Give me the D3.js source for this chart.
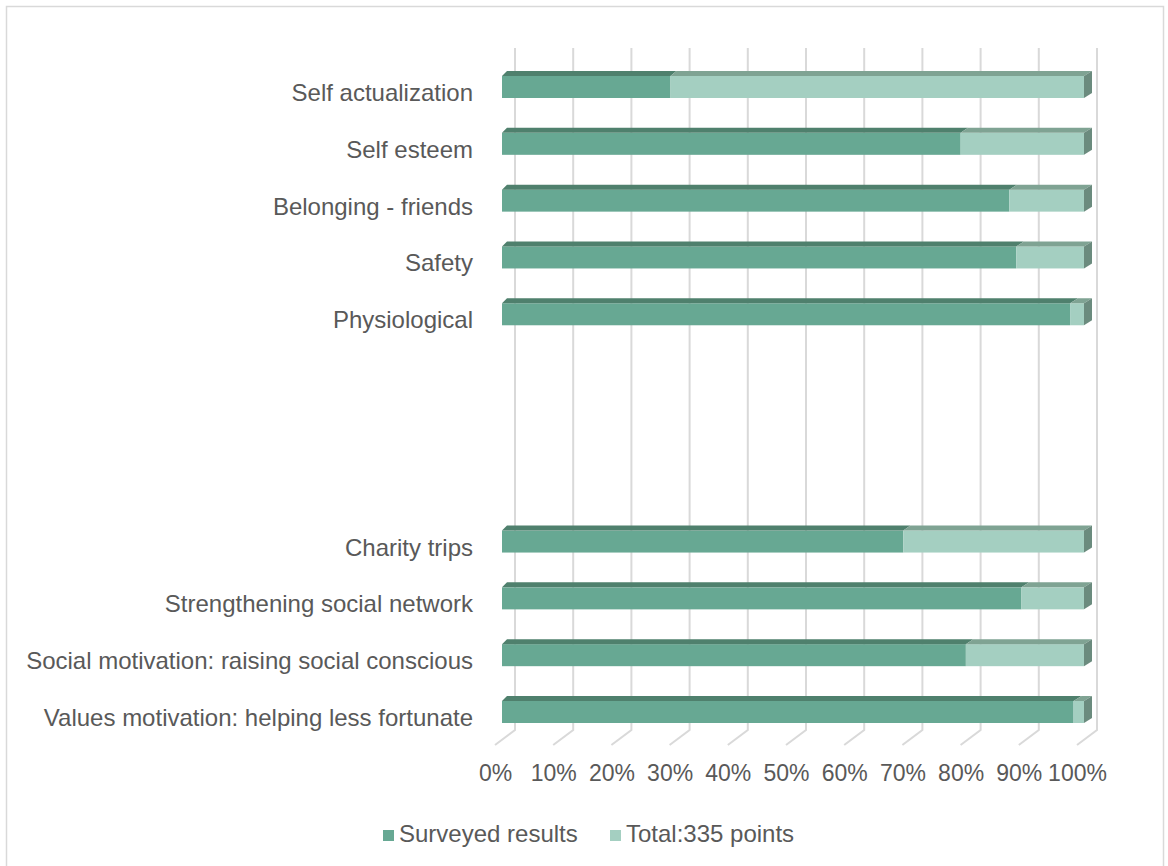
<!DOCTYPE html>
<html>
<head>
<meta charset="utf-8">
<script src="https://cdn.jsdelivr.net/npm/d3@7"></script>
<style>
  html, body { margin: 0; padding: 0; background: #ffffff; }
  svg { display: block; }
  text { font-family: "Liberation Sans", Arial, sans-serif; fill: #595959; }
</style>
</head>
<body>
<svg id="chart" width="1168" height="866"></svg>
<script>
// Categories top to bottom; empty names are spacer rows between the two groups
const categories = [
  "Self actualization",
  "Self esteem",
  "Belonging - friends",
  "Safety",
  "Physiological",
  "", "", "",
  "Charity trips",
  "Strengthening social network",
  "Social motivation: raising social conscious",
  "Values motivation: helping less fortunate"
];
// Points per category (each row totals 335)
const surveyed  = [97, 264, 292, 296, 327, null, null, null, 231, 299, 267, 329];
const remaining = [238, 71, 43, 39, 8, null, null, null, 104, 36, 68, 6];
const seriesNames = ["Surveyed results", "Total:335 points"];
const tickValues = [0, 0.1, 0.2, 0.3, 0.4, 0.5, 0.6, 0.7, 0.8, 0.9, 1.0];

const colors = {
  front: ["#67a893", "#a4cfc1"],
  top:   ["#4f806d", "#7fa393"],
  side:  "#6b8b7e",
  grid:  "#d9d9d9"
};

const svg = d3.select("#chart");

// outer chart frame
svg.append("rect")
  .attr("x", 6.5).attr("y", 6.5)
  .attr("width", 1157).attr("height", 900)
  .attr("fill", "none").attr("stroke", "#d9d9d9").attr("stroke-width", 1.5);

const x = d3.scaleLinear().domain([0, 1]).range([502, 1084]);
const y = d3.scalePoint().domain(d3.range(categories.length)).range([87, 712]);
const barH = 22;

// perspective depth grows slightly toward the right
const depthX = v => 5 + 3 * (x(v) - x(0)) / (x(1) - x(0));
const depthY = 5;

// back wall gridlines and their floor segments
const backOff = 13, floorOff = -7, wallTop = 48, wallBottom = 730, floorFront = 745;
const grid = svg.append("g");
tickValues.forEach(t => {
  grid.append("path")
    .attr("d", `M${x(t) + backOff},${wallTop} L${x(t) + backOff},${wallBottom} L${x(t) + floorOff},${floorFront}`)
    .attr("fill", "none").attr("stroke", colors.grid).attr("stroke-width", 2);
});

// axis labels sit under the front edge of the floor
const axisG = svg.append("g").attr("transform", `translate(${floorOff},781)`);
const xAxis = d3.axisBottom(x).tickValues(tickValues).tickFormat(d3.format(".0%")).tickSize(0).tickPadding(0);
axisG.call(xAxis);
axisG.select(".domain").remove();
axisG.selectAll("text")
  .attr("y", 0).attr("dy", 0)
  .style("font-size", "23px")
  .style("font-family", "'Liberation Sans', Arial, sans-serif")
  .attr("fill", "#595959");

// stacked 100% bars with top and end faces
const barsG = svg.append("g");
categories.forEach((name, i) => {
  if (surveyed[i] == null) return;
  const total = surveyed[i] + remaining[i];
  const shares = [surveyed[i] / total, remaining[i] / total];
  const yc = y(i), yT = yc - barH / 2, yB = yc + barH / 2;
  let acc = 0;
  shares.forEach((s, k) => {
    const v0 = acc, v1 = acc + s;
    acc = v1;
    const x0 = x(v0), x1 = x(v1);
    barsG.append("rect")
      .attr("x", x0).attr("y", yT)
      .attr("width", x1 - x0).attr("height", barH)
      .attr("fill", colors.front[k]);
    barsG.append("path")
      .attr("d", `M${x0},${yT} L${x0 + depthX(v0)},${yT - depthY} L${x1 + depthX(v1)},${yT - depthY} L${x1},${yT} Z`)
      .attr("fill", colors.top[k]);
  });
  const xe = x(1), de = depthX(1);
  barsG.append("path")
    .attr("d", `M${xe},${yT} L${xe + de},${yT - depthY} L${xe + de},${yB - depthY} L${xe},${yB} Z`)
    .attr("fill", colors.side);
});

// category labels
svg.append("g").selectAll("text")
  .data(categories)
  .join("text")
  .attr("x", 473)
  .attr("y", (d, i) => y(i) + 14)
  .attr("text-anchor", "end")
  .style("font-size", "24px")
  .text(d => d);

// legend
const legend = svg.append("g");
const legendX = [383, 610];
seriesNames.forEach((n, k) => {
  legend.append("rect")
    .attr("x", legendX[k]).attr("y", 830)
    .attr("width", 11).attr("height", 11)
    .attr("fill", colors.front[k]);
  legend.append("text")
    .attr("x", legendX[k] + 16).attr("y", 842)
    .style("font-size", "24px")
    .text(n);
});
</script>
</body>
</html>
